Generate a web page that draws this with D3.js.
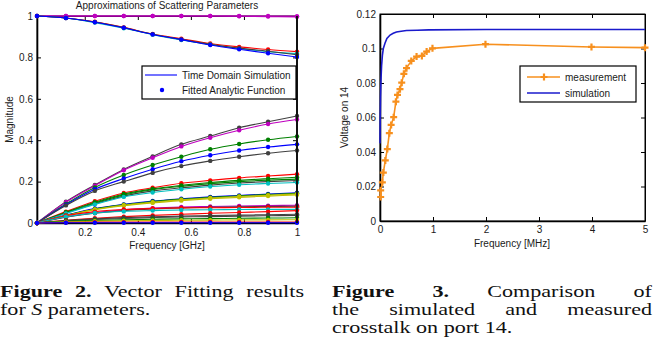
<!DOCTYPE html>
<html>
<head>
<meta charset="utf-8">
<script src="https://cdn.jsdelivr.net/npm/d3@7"></script>
<style>
body { margin: 0; background: #fff; }
svg { display: block; }
</style>
</head>
<body>
<div id="chart"></div>
<script>
var w = 654;
var h = 354;
var sans = "'Liberation Sans', Arial, sans-serif";
var serif = "'Liberation Serif', 'Times New Roman', serif";

// ---- Figure 2 data: S parameter magnitudes vs frequency [GHz]
var freqGHz = [0.02, 0.129, 0.238, 0.347, 0.456, 0.564, 0.673, 0.782, 0.891, 1.0];
var sMag = [
   [1, 1, 1, 1, 1, 1, 1, 0.999, 0.997, 0.996],
   [1, 1, 1, 1, 1, 1, 1, 1, 1, 0.999],
   [1, 0.99, 0.972, 0.945, 0.913, 0.89, 0.867, 0.851, 0.838, 0.828],
   [1, 0.99, 0.968, 0.941, 0.91, 0.884, 0.862, 0.843, 0.828, 0.818],
   [1, 0.99, 0.971, 0.944, 0.912, 0.887, 0.863, 0.845, 0.83, 0.813],
   [1, 0.99, 0.97, 0.943, 0.911, 0.886, 0.86, 0.839, 0.82, 0.802],
   [0, 0.103, 0.184, 0.259, 0.322, 0.38, 0.42, 0.46, 0.489, 0.517],
   [0, 0.1, 0.18, 0.255, 0.315, 0.37, 0.412, 0.448, 0.478, 0.5],
   [0, 0.092, 0.172, 0.232, 0.28, 0.32, 0.356, 0.382, 0.402, 0.418],
   [0, 0.088, 0.163, 0.215, 0.26, 0.298, 0.327, 0.35, 0.367, 0.38],
   [0, 0.085, 0.155, 0.2, 0.242, 0.275, 0.3, 0.32, 0.337, 0.35],
   [0, 0.055, 0.105, 0.145, 0.17, 0.192, 0.206, 0.218, 0.227, 0.236],
   [0, 0.052, 0.1, 0.14, 0.165, 0.182, 0.196, 0.206, 0.214, 0.221],
   [0, 0.048, 0.093, 0.13, 0.155, 0.17, 0.183, 0.193, 0.2, 0.205],
   [0, 0.05, 0.097, 0.136, 0.161, 0.177, 0.19, 0.2, 0.207, 0.212],
   [0, 0.046, 0.09, 0.126, 0.147, 0.163, 0.176, 0.185, 0.191, 0.196],
   [0, 0.038, 0.07, 0.09, 0.106, 0.117, 0.126, 0.133, 0.14, 0.146],
   [0, 0.036, 0.068, 0.088, 0.104, 0.115, 0.124, 0.131, 0.138, 0.144],
   [0, 0.034, 0.064, 0.083, 0.097, 0.108, 0.117, 0.124, 0.13, 0.136],
   [0, 0.035, 0.066, 0.086, 0.1, 0.112, 0.121, 0.128, 0.134, 0.14],
   [0, 0.03, 0.05, 0.064, 0.072, 0.077, 0.08, 0.082, 0.084, 0.086],
   [0, 0.028, 0.047, 0.06, 0.068, 0.073, 0.076, 0.078, 0.08, 0.081],
   [0, 0.035, 0.055, 0.065, 0.07, 0.073, 0.074, 0.075, 0.076, 0.076],
   [0, 0.03, 0.048, 0.056, 0.06, 0.063, 0.064, 0.065, 0.066, 0.066],
   [0, 0.013, 0.023, 0.031, 0.037, 0.042, 0.047, 0.051, 0.055, 0.06],
   [0, 0.012, 0.02, 0.026, 0.03, 0.033, 0.036, 0.038, 0.04, 0.042],
   [0, 0.01, 0.017, 0.022, 0.026, 0.029, 0.031, 0.033, 0.035, 0.036],
   [0, 0.008, 0.012, 0.015, 0.018, 0.02, 0.021, 0.023, 0.024, 0.025],
   [0, 0.006, 0.009, 0.011, 0.012, 0.013, 0.014, 0.015, 0.015, 0.016],
   [0, 0.003, 0.004, 0.004, 0.005, 0.005, 0.005, 0.005, 0.005, 0.005],
   [0, 0.001, 0.001, 0.001, 0.001, 0.001, 0.001, 0.001, 0.001, 0.001]
];
// matlab color order letter per series
var sColorKey = ["m", "m", "r", "c", "k", "b", "k", "m", "g", "b", "k",
                 "r", "g", "k", "g", "c", "b", "g", "y", "y", "m", "k", "r", "c",
                 "r", "k", "k", "g", "y", "r", "b"];
var leftXTicks = [0.2, 0.4, 0.6, 0.8, 1];
var leftYTicks = [0, 0.2, 0.4, 0.6, 0.8, 1];
var leftLegend = ["Time Domain Simulation", "Fitted Analytic Function"];

// ---- Figure 3 data: crosstalk voltage on port 14 vs frequency [MHz]
var measFreq = [0.013, 0.013, 0.044, 0.063, 0.10, 0.138, 0.176, 0.21, 0.258, 0.30, 0.33, 0.377,
                0.41, 0.45, 0.50, 0.59, 0.69, 0.79, 0.88, 0.99, 1.99, 3.99, 5.0];
var measVolt = [0.0139, 0.0177, 0.0224, 0.0281, 0.0351, 0.0417, 0.0509, 0.0557, 0.0602, 0.0692,
                0.0731, 0.0764, 0.0802, 0.0853, 0.0886, 0.0928, 0.0953, 0.0957, 0.0982, 0.1001,
                0.1025, 0.1009, 0.1005];
var simFreq = [0, 0.005, 0.01, 0.02, 0.03, 0.045, 0.063, 0.094, 0.13, 0.19, 0.25, 0.31, 0.4,
               0.5, 0.7, 0.92, 2, 3, 4, 5];
var simVolt = [0.045, 0.062, 0.072, 0.083, 0.09, 0.096, 0.1, 0.103, 0.1058, 0.1078, 0.1088,
               0.1096, 0.11, 0.1104, 0.1106, 0.1108, 0.111, 0.111, 0.111, 0.111];
var rightXTicks = [0, 1, 2, 3, 4, 5];
var rightYTicks = [0, 0.02, 0.04, 0.06, 0.08, 0.1, 0.12];
var rightLegend = ["measurement", "simulation"];

var matlabColors = {
   b: "#0000ff", g: "#008000", r: "#ff0000", c: "#00bfbf",
   m: "#bf00bf", y: "#bfbf00", k: "#404040"
};
var orange = "#f7901e";
var simBlue = "#1a1acc";

var svg = d3.select("#chart")
            .append("svg")
            .attr("width", w)
            .attr("height", h)
            .style("background", "#fff");

// axes helper: inward ticks, mirrored on top / right
var drawFrame = function(x, y, xTicks, yTicks, xFmt, yFmt, xPad, yPad) {
   var g = svg.append("g");
   var x0 = x.range()[0], x1 = x.range()[1];
   var y0 = y.range()[0], y1 = y.range()[1];

   g.append("rect")
    .attr("x", x0).attr("y", y1)
    .attr("width", x1 - x0).attr("height", y0 - y1)
    .attr("fill", "none").attr("stroke", "#000").attr("stroke-width", 1);

   var bottom = g.append("g").attr("transform", "translate(0," + y0 + ")")
      .call(d3.axisBottom(x).tickValues(xTicks).tickFormat(xFmt)
               .tickSizeInner(-4).tickSizeOuter(0).tickPadding(xPad));
   var left = g.append("g").attr("transform", "translate(" + x0 + ",0)")
      .call(d3.axisLeft(y).tickValues(yTicks).tickFormat(yFmt)
               .tickSizeInner(-4).tickSizeOuter(0).tickPadding(yPad));
   g.append("g").attr("transform", "translate(0," + y1 + ")")
      .call(d3.axisTop(x).tickValues(xTicks).tickFormat("")
               .tickSizeInner(-4).tickSizeOuter(0));
   g.append("g").attr("transform", "translate(" + x1 + ",0)")
      .call(d3.axisRight(y).tickValues(yTicks).tickFormat("")
               .tickSizeInner(-4).tickSizeOuter(0));

   g.selectAll(".domain").attr("stroke", "#000");
   bottom.select(".domain").attr("stroke-width", 1.6);
   left.select(".domain").attr("stroke-width", 1.6);
   g.selectAll(".tick line").attr("stroke", "#000");
   g.selectAll(".tick text")
    .attr("font-family", sans).attr("font-size", 10).attr("fill", "#1a1a1a");
   return g;
};

// ================= Figure 2 =================
var xL = d3.scaleLinear().domain([0.02, 1]).range([37, 297]);
var yL = d3.scaleLinear().domain([0, 1]).range([223, 16]);

var fmtL = function(d) { return d3.format("~g")(d); };
drawFrame(xL, yL, leftXTicks, leftYTicks, fmtL, fmtL, 6, 4);

var lineL = d3.line()
              .x(function(d, i) { return xL(freqGHz[i]); })
              .y(function(d) { return yL(d); })
              .curve(d3.curveMonotoneX);

var seriesG = svg.append("g");
sMag.forEach(function(vals, k) {
   var col = matlabColors[sColorKey[k]];
   seriesG.append("path")
          .attr("d", lineL(vals))
          .attr("fill", "none")
          .attr("stroke", col)
          .attr("stroke-width", 1.1);
   seriesG.selectAll(null)
          .data(vals)
          .enter()
          .append("circle")
          .attr("cx", function(d, i) { return xL(freqGHz[i]); })
          .attr("cy", function(d) { return yL(d); })
          .attr("r", 2.2)
          .attr("fill", col);
});

// thick right edge of the box
svg.append("line")
   .attr("x1", xL(1)).attr("x2", xL(1))
   .attr("y1", yL(0)).attr("y2", yL(1))
   .attr("stroke", "#111").attr("stroke-width", 2);

svg.append("text")
   .attr("x", 167).attr("y", 8.5)
   .attr("text-anchor", "middle")
   .attr("font-family", sans).attr("font-size", 10).attr("fill", "#1a1a1a")
   .text("Approximations of Scattering Parameters");

svg.append("text")
   .attr("x", 167).attr("y", 249)
   .attr("text-anchor", "middle")
   .attr("font-family", sans).attr("font-size", 10).attr("fill", "#1a1a1a")
   .text("Frequency [GHz]");

svg.append("text")
   .attr("transform", "translate(13," + yL(0.5) + ") rotate(-90)")
   .attr("text-anchor", "middle")
   .attr("font-family", sans).attr("font-size", 10).attr("fill", "#1a1a1a")
   .text("Magnitude");

// legend
var legL = svg.append("g");
legL.append("rect")
    .attr("x", 142).attr("y", 66).attr("width", 154).attr("height", 33)
    .attr("fill", "#fff").attr("stroke", "#000").attr("stroke-width", 1.2);
legL.append("line")
    .attr("x1", 145).attr("x2", 177).attr("y1", 75).attr("y2", 75)
    .attr("stroke", matlabColors.b).attr("stroke-width", 1.1);
legL.append("circle")
    .attr("cx", 162).attr("cy", 90).attr("r", 2.2).attr("fill", matlabColors.b);
legL.selectAll(null)
    .data(leftLegend)
    .enter()
    .append("text")
    .attr("x", 182)
    .attr("y", function(d, i) { return 78.5 + i * 15; })
    .attr("font-family", sans).attr("font-size", 10).attr("fill", "#1a1a1a")
    .text(function(d) { return d; });

// ================= Figure 3 =================
var xR = d3.scaleLinear().domain([0, 5]).range([380, 645]);
var yR = d3.scaleLinear().domain([0, 0.12]).range([221, 14]);

drawFrame(xR, yR, rightXTicks, rightYTicks,
          function(d) { return d3.format("~g")(d); },
          function(d) { return d3.format("~g")(d); }, 5, 4);

var plus = "M-3.5,0H3.5M0,-3.5V3.5";

svg.append("path")
   .attr("d", d3.line()
                .x(function(d, i) { return xR(simFreq[i]); })
                .y(function(d) { return yR(d); })(simVolt))
   .attr("fill", "none").attr("stroke", simBlue).attr("stroke-width", 1.6);

svg.append("path")
   .attr("d", d3.line()
                .x(function(d, i) { return xR(measFreq[i]); })
                .y(function(d) { return yR(d); })(measVolt))
   .attr("fill", "none").attr("stroke", orange).attr("stroke-width", 1.6);

svg.append("g")
   .selectAll("path")
   .data(measVolt)
   .enter()
   .append("path")
   .attr("d", plus)
   .attr("transform", function(d, i) {
      return "translate(" + xR(measFreq[i]) + "," + yR(d) + ")";
   })
   .attr("fill", "none").attr("stroke", orange).attr("stroke-width", 2.2);

svg.append("text")
   .attr("x", 512).attr("y", 247)
   .attr("text-anchor", "middle")
   .attr("font-family", sans).attr("font-size", 10).attr("fill", "#1a1a1a")
   .text("Frequency [MHz]");

svg.append("text")
   .attr("transform", "translate(348," + yR(0.06) + ") rotate(-90)")
   .attr("text-anchor", "middle")
   .attr("font-family", sans).attr("font-size", 10).attr("fill", "#1a1a1a")
   .text("Voltage on 14");

var legR = svg.append("g");
legR.append("rect")
    .attr("x", 520).attr("y", 66).attr("width", 116).attr("height", 36)
    .attr("fill", "#fff").attr("stroke", "#000").attr("stroke-width", 1.2);
legR.append("line")
    .attr("x1", 527).attr("x2", 560).attr("y1", 77).attr("y2", 77)
    .attr("stroke", orange).attr("stroke-width", 1.6);
legR.append("path")
    .attr("d", plus).attr("transform", "translate(544,77)")
    .attr("fill", "none").attr("stroke", orange).attr("stroke-width", 2.2);
legR.append("line")
    .attr("x1", 527).attr("x2", 560).attr("y1", 93).attr("y2", 93)
    .attr("stroke", simBlue).attr("stroke-width", 1.6);
legR.selectAll(null)
    .data(rightLegend)
    .enter()
    .append("text")
    .attr("x", 565)
    .attr("y", function(d, i) { return 80.5 + i * 16; })
    .attr("font-family", sans).attr("font-size", 10).attr("fill", "#1a1a1a")
    .text(function(d) { return d; });

// ================= captions =================
// words are stretched to get closer to the wider TeX glyphs
var stretch = 1.3;
var captionLine = function(x0, y, width, words, justify) {
   var g = svg.append("g");
   var texts = words.map(function(wd) {
      return g.append("text")
              .attr("y", y)
              .attr("font-family", serif)
              .attr("font-size", 17)
              .attr("fill", "#111")
              .attr("font-weight", wd.b ? "bold" : null)
              .attr("font-style", wd.i ? "italic" : null)
              .text(wd.t);
   });
   var widths = texts.map(function(t) {
      var len = t.node().getComputedTextLength() * stretch;
      t.attr("textLength", len).attr("lengthAdjust", "spacingAndGlyphs");
      return len;
   });
   var gap = justify ? (width - d3.sum(widths)) / (words.length - 1) : 5.5;
   var x = x0;
   texts.forEach(function(t, i) {
      t.attr("x", x);
      x += widths[i] + gap;
   });
};

captionLine(0, 296.5, 304, [{t: "Figure", b: 1}, {t: "2.", b: 1}, {t: "Vector"},
                            {t: "Fitting"}, {t: "results"}], true);
captionLine(0, 314.8, 0, [{t: "for"}, {t: "S", i: 1}, {t: "parameters."}], false);

captionLine(332, 296.5, 320, [{t: "Figure", b: 1}, {t: "3.", b: 1}, {t: "Comparison"},
                              {t: "of"}], true);
captionLine(332, 314.8, 320, [{t: "the"}, {t: "simulated"}, {t: "and"}, {t: "measured"}], true);
captionLine(332, 333.1, 0, [{t: "crosstalk"}, {t: "on"}, {t: "port"}, {t: "14."}], false);
</script>
</body>
</html>
